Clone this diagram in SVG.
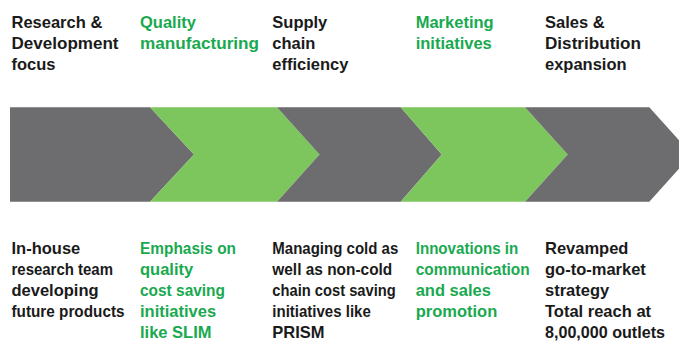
<svg xmlns="http://www.w3.org/2000/svg" width="679" height="362" viewBox="0 0 679 362">
  <style>
    .gray { fill: #6d6c6e; }
    .green { fill: #7dc65d; }
    text { font-family: "Liberation Sans", Arial, sans-serif; font-weight: bold; font-size: 16.5px; }
    .dark { fill: #1a1a1a; }
    .accent { fill: #19a94f; }
  </style>
  <rect width="679" height="362" fill="#ffffff"/>

  <!-- the band is built from abutting chevrons; no separate connectors -->
  <g id="connectors"></g>

  <g id="stage-rd">
    <polygon class="gray" points="10,107.3 150,107.3 194,154.5 150,201.7 10,201.7"/>
    <text class="dark" x="11.5" y="28.3">Research &amp;</text>
    <text class="dark" x="11.5" y="49.3" textLength="107" lengthAdjust="spacingAndGlyphs">Development</text>
    <text class="dark" x="11.5" y="70.3">focus</text>
    <text class="dark" x="11.5" y="254.3">In-house</text>
    <text class="dark" x="11.5" y="275.3" textLength="101.5" lengthAdjust="spacingAndGlyphs">research team</text>
    <text class="dark" x="11.5" y="296.3">developing</text>
    <text class="dark" x="11.5" y="317.3" textLength="113" lengthAdjust="spacingAndGlyphs">future products</text>
  </g>

  <g id="stage-quality">
    <polygon class="green" points="150,107.3 277,107.3 319.5,154.5 277,201.7 150,201.7 194,154.5"/>
    <text class="accent" x="140" y="28.3">Quality</text>
    <text class="accent" x="140" y="49.3" textLength="119" lengthAdjust="spacingAndGlyphs">manufacturing</text>
    <text class="accent" x="140" y="254.3" textLength="96" lengthAdjust="spacingAndGlyphs">Emphasis on</text>
    <text class="accent" x="140" y="275.3">quality</text>
    <text class="accent" x="140" y="296.3" textLength="85" lengthAdjust="spacingAndGlyphs">cost saving</text>
    <text class="accent" x="140" y="317.3">initiatives</text>
    <text class="accent" x="140" y="338.3">like SLIM</text>
  </g>

  <g id="stage-supply">
    <polygon class="gray" points="277,107.3 400.7,107.3 441.7,154.5 400.7,201.7 277,201.7 319.5,154.5"/>
    <text class="dark" x="272.3" y="28.3">Supply</text>
    <text class="dark" x="272.3" y="49.3">chain</text>
    <text class="dark" x="272.3" y="70.3">efficiency</text>
    <text class="dark" x="272.3" y="254.3" textLength="126" lengthAdjust="spacingAndGlyphs">Managing cold as</text>
    <text class="dark" x="272.3" y="275.3" textLength="120" lengthAdjust="spacingAndGlyphs">well as non-cold</text>
    <text class="dark" x="272.3" y="296.3" textLength="123.5" lengthAdjust="spacingAndGlyphs">chain cost saving</text>
    <text class="dark" x="272.3" y="317.3" textLength="98.5" lengthAdjust="spacingAndGlyphs">initiatives like</text>
    <text class="dark" x="272.3" y="338.3">PRISM</text>
  </g>

  <g id="stage-marketing">
    <polygon class="green" points="400.7,107.3 525,107.3 567.7,154.5 525,201.7 400.7,201.7 441.7,154.5"/>
    <text class="accent" x="415.7" y="28.3">Marketing</text>
    <text class="accent" x="415.7" y="49.3">initiatives</text>
    <text class="accent" x="415.7" y="254.3" textLength="102.5" lengthAdjust="spacingAndGlyphs">Innovations in</text>
    <text class="accent" x="415.7" y="275.3" textLength="114" lengthAdjust="spacingAndGlyphs">communication</text>
    <text class="accent" x="415.7" y="296.3">and sales</text>
    <text class="accent" x="415.7" y="317.3">promotion</text>
  </g>

  <g id="stage-sales">
    <polygon class="gray" points="525,107.3 649.3,107.3 692,154.5 649.3,201.7 525,201.7 567.7,154.5"/>
    <text class="dark" x="545" y="28.3">Sales &amp;</text>
    <text class="dark" x="545" y="49.3" textLength="96" lengthAdjust="spacingAndGlyphs">Distribution</text>
    <text class="dark" x="545" y="70.3">expansion</text>
    <text class="dark" x="545" y="254.3">Revamped</text>
    <text class="dark" x="545" y="275.3">go-to-market</text>
    <text class="dark" x="545" y="296.3">strategy</text>
    <text class="dark" x="545" y="317.3">Total reach at</text>
    <text class="dark" x="545" y="338.3" textLength="120" lengthAdjust="spacingAndGlyphs">8,00,000 outlets</text>
  </g>
</svg>
